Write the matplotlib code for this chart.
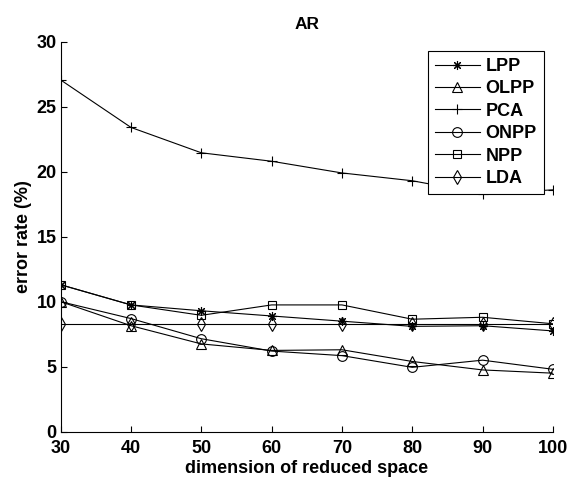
import matplotlib
matplotlib.use("Agg")
import matplotlib.pyplot as plt

dims = [30, 40, 50, 60, 70, 80, 90, 100]
lpp = [11.3, 9.75, 9.3, 8.9, 8.5, 8.1, 8.15, 7.75]
olpp = [10.0, 8.15, 6.75, 6.25, 6.3, 5.4, 4.75, 4.5]
pca = [27.05, 23.4, 21.45, 20.8, 19.9, 19.3, 18.3, 18.6]
onpp = [10.0, 8.7, 7.15, 6.2, 5.85, 4.95, 5.5, 4.8]
npp = [11.3, 9.75, 8.95, 9.75, 9.75, 8.65, 8.8, 8.3]
lda = [8.25, 8.25, 8.25, 8.25, 8.25, 8.25, 8.25, 8.25]

# nome, dados, marcador, tamanho
series = [
    ("LPP", lpp, (8, 2, 0), 6.5),
    ("OLPP", olpp, "^", 6.5),
    ("PCA", pca, "+", 7),
    ("ONPP", onpp, "o", 7),
    ("NPP", npp, "s", 5.5),
    ("LDA", lda, "d", 7.5),
]

plt.rcParams["font.family"] = ["Liberation Sans", "DejaVu Sans"]
plt.rcParams["font.weight"] = "bold"

fig = plt.figure(figsize=(5.77, 4.78), dpi=100)
ax = fig.add_axes([0.1052, 0.0969, 0.853, 0.816])

for nome, valores, marca, tam in series:
    ax.plot(dims, valores, color="black", linewidth=0.8, marker=marca,
            markersize=tam, markerfacecolor="none", markeredgecolor="black",
            markeredgewidth=0.8, label=nome)

ax.set_xlim(30, 100)
ax.set_ylim(0, 30)
ax.set_xticks(dims)
ax.set_yticks([0, 5, 10, 15, 20, 25, 30])
ax.tick_params(direction="in", length=4, width=0.8, labelsize=13)
ax.tick_params(axis="x", pad=6)
ax.tick_params(axis="y", pad=3)
for lab in ax.get_xticklabels() + ax.get_yticklabels():
    lab.set_fontweight("bold")

ax.spines["top"].set_visible(False)
ax.spines["right"].set_visible(False)
ax.spines["left"].set_linewidth(0.8)
ax.spines["bottom"].set_linewidth(0.8)

ax.set_title("AR", fontsize=12.5, fontweight="bold", pad=9)
ax.set_xlabel("dimension of reduced space", fontsize=13, fontweight="bold", labelpad=2)
ax.set_ylabel("error rate (%)", fontsize=13, fontweight="bold", labelpad=3)

leg = ax.legend(loc="upper right", fontsize=13, frameon=True, fancybox=False,
                edgecolor="black", framealpha=1, borderaxespad=0.5,
                handlelength=2.5, labelspacing=0.3, handletextpad=0.3,
                borderpad=0.4)
leg.get_frame().set_linewidth(0.8)
for t in leg.get_texts():
    t.set_fontweight("bold")

fig.savefig("out.png", dpi=100)
